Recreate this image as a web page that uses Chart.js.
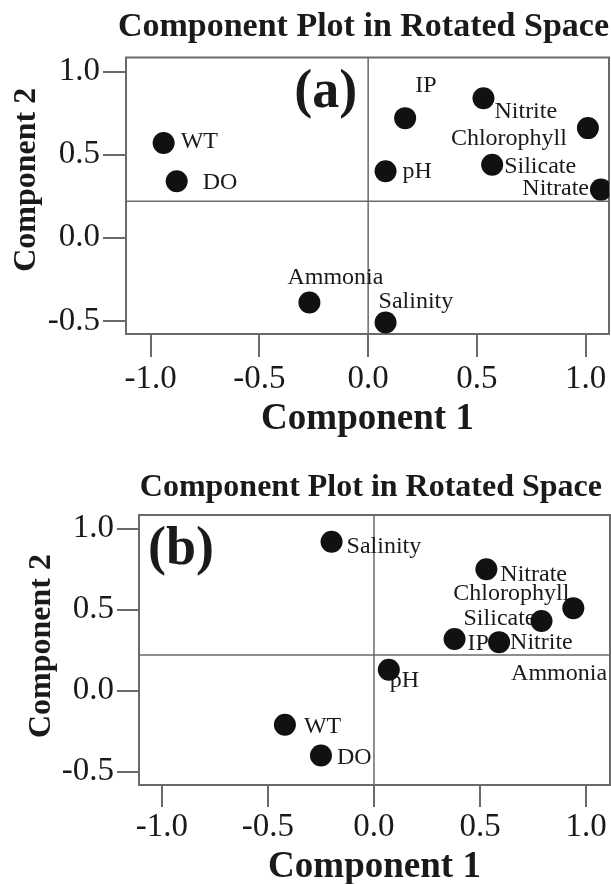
<!DOCTYPE html>
<html>
<head>
<meta charset="utf-8">
<title>Component Plot in Rotated Space</title>
<script src="https://cdn.jsdelivr.net/npm/chart.js@4.4.1/dist/chart.umd.min.js"></script>
<style>
  html, body { margin: 0; padding: 0; background: #fff; overflow: hidden; }
  canvas { position: absolute; left: 0; }
  #plotA { top: 0; }
  #plotB { top: 440px; }
</style>
</head>
<body>
<canvas id="plotA" width="611" height="440"></canvas>
<canvas id="plotB" width="611" height="448"></canvas>
<script>
// panel (a)
const namesA = ['WT', 'DO', 'IP', 'Nitrite', 'Chlorophyll', 'pH', 'Silicate', 'Nitrate', 'Ammonia', 'Salinity']
const comp1A = [-0.94, -0.88, 0.17, 0.53, 1.01, 0.08, 0.57, 1.07, -0.27, 0.08]
const comp2A = [0.57, 0.34, 0.72, 0.84, 0.66, 0.40, 0.44, 0.29, -0.39, -0.51]

// panel (b)
const namesB = ['Salinity', 'Nitrate', 'Chlorophyll', 'Silicate', 'IP', 'Nitrite', 'pH', 'Ammonia', 'WT', 'DO']
const comp1B = [-0.20, 0.53, 0.94, 0.79, 0.38, 0.59, 0.07, 1.17, -0.42, -0.25]
const comp2B = [0.92, 0.75, 0.51, 0.43, 0.32, 0.30, 0.13, 0.11, -0.21, -0.40]

const xTicks = [-1.0, -0.5, 0.0, 0.5, 1.0]
const yTicks = [-0.5, 0.0, 0.5, 1.0]
const refLineX = 0
const refLineY = 0.22

// label placement next to each dot: [dx, dy, align]
const offsetsA = [[17, -1, 'left'], [26, 1, 'left'], [10, -32, 'left'], [11, 13, 'left'], [-21, 11, 'right'],
  [17, 0, 'left'], [12, 2, 'left'], [-12, -1, 'right'], [-22, -25, 'left'], [-7, -21, 'left']]
const offsetsB = [[15, 5, 'left'], [14, 5, 'left'], [-4, -14, 'right'], [-6, -2, 'right'], [13, 5, 'left'],
  [11, 1, 'left'], [1, 11, 'left'], [-15, 1, 'right'], [19, 2, 'left'], [16, 2, 'left']]

const SERIF = "'Liberation Serif', 'Times New Roman', serif"
const INK = '#1a1a1a'
const LINE = '#6a6a6a'

Chart.defaults.font.family = SERIF
Chart.defaults.color = INK

const framePlugin = {
  id: 'frame',
  beforeDatasetsDraw(chart, args, opts) {
    const { ctx, chartArea: a, scales: { x, y } } = chart
    ctx.save()
    ctx.strokeStyle = LINE
    ctx.lineWidth = 1.5
    const px = x.getPixelForValue(refLineX)
    const py = y.getPixelForValue(refLineY)
    ctx.beginPath()
    ctx.moveTo(px, a.top); ctx.lineTo(px, a.bottom)
    ctx.moveTo(a.left, py); ctx.lineTo(a.right, py)
    ctx.stroke()
    ctx.lineWidth = 2
    ctx.strokeRect(a.left, a.top, a.right - a.left, a.bottom - a.top)

    // panel letter
    ctx.fillStyle = INK
    ctx.font = 'bold 54px ' + SERIF
    ctx.textBaseline = 'middle'
    ctx.textAlign = opts.letterAlign
    ctx.fillText(opts.letter, x.getPixelForValue(opts.letterAt[0]), y.getPixelForValue(opts.letterAt[1]))

    // point names
    ctx.font = '24px ' + SERIF
    const meta = chart.getDatasetMeta(0)
    meta.data.forEach((pt, i) => {
      const [dx, dy, align] = opts.offsets[i]
      ctx.textAlign = align
      ctx.fillText(opts.names[i], pt.x + dx, pt.y + dy)
    })
    ctx.restore()
  }
}

function makePlot(id, p) {
  const ctx = document.getElementById(id).getContext('2d')
  const data = p.xs.map((v, i) => ({ x: v, y: p.ys[i] }))
  return new Chart(ctx, {
    type: 'scatter',
    data: {
      datasets: [{
        data,
        pointRadius: 11,
        pointHoverRadius: 11,
        backgroundColor: '#111',
        borderWidth: 0
      }]
    },
    plugins: [framePlugin],
    options: {
      responsive: false,
      animation: false,
      layout: { autoPadding: false, padding: { left: 0, right: p.padRight, top: 0, bottom: 0 } },
      plugins: {
        legend: { display: false },
        tooltip: { enabled: false },
        title: {
          display: true,
          text: p.title,
          align: 'end',
          color: INK,
          font: { size: p.titleSize, weight: 'bold', lineHeight: 1.2 },
          padding: { top: p.titleTop, bottom: p.titleBottom }
        },
        frame: { names: p.names, offsets: p.offsets, letter: p.letter, letterAt: p.letterAt, letterAlign: p.letterAlign }
      },
      scales: {
        x: {
          type: 'linear',
          min: p.xMin,
          max: p.xMax,
          afterBuildTicks: s => { s.ticks = xTicks.map(v => ({ value: v })) },
          afterFit: s => { s.height = p.xHeight; s.paddingLeft = 0; s.paddingRight = 0 },
          grid: { drawOnChartArea: false, drawTicks: true, tickLength: p.tickLen, color: LINE, lineWidth: 2 },
          border: { display: false },
          ticks: { color: INK, padding: p.xTickPad, font: { size: 33 }, callback: v => v.toFixed(1) },
          title: { display: true, text: 'Component 1', color: INK, font: { size: 37, weight: 'bold', lineHeight: 1 }, padding: { top: 0, bottom: 2 } }
        },
        y: {
          type: 'linear',
          min: p.yMin,
          max: p.yMax,
          afterBuildTicks: s => { s.ticks = yTicks.map(v => ({ value: v })) },
          afterFit: s => { s.width = p.yWidth; s.paddingTop = 0; s.paddingBottom = 0 },
          grid: { drawOnChartArea: false, drawTicks: true, tickLength: p.tickLen, color: LINE, lineWidth: 2 },
          border: { display: false },
          ticks: { color: INK, padding: 3, font: { size: 33 }, callback: v => v.toFixed(1) },
          title: { display: true, text: p.yTitle, color: INK, font: { size: 32, weight: 'bold', lineHeight: 1 }, padding: { top: p.yTitlePad, bottom: 0 } }
        }
      }
    }
  })
}

makePlot('plotA', {
  xs: comp1A, ys: comp2A, names: namesA, offsets: offsetsA,
  title: 'Component Plot in Rotated Space', yTitle: '    Component 2',
  letter: '(a)', letterAt: [-0.05, 0.873], letterAlign: 'right',
  xMin: -1.113, xMax: 1.107, yMin: -0.579, yMax: 1.085,
  padRight: 2, titleSize: 34, titleTop: 6.6, titleBottom: 10.1,
  xHeight: 106, yWidth: 126, tickLen: 23, xTickPad: 3, yTitlePad: 11
})

makePlot('plotB', {
  xs: comp1B, ys: comp2B, names: namesB, offsets: offsetsB,
  title: 'Component Plot in Rotated Space ', yTitle: ' Component 2',
  letter: '(b)', letterAt: [-1.066, 0.868], letterAlign: 'left',
  xMin: -1.108, xMax: 1.113, yMin: -0.582, yMax: 1.085,
  padRight: 1, titleSize: 32, titleTop: 28.8, titleBottom: 7.8,
  xHeight: 103, yWidth: 139, tickLen: 22, xTickPad: 1, yTitlePad: 25.7
})
</script>
</body>
</html>
